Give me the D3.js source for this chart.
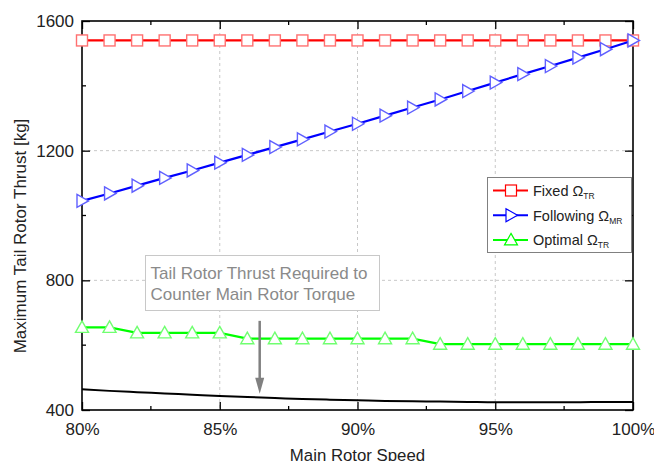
<!DOCTYPE html>
<html>
<head>
<meta charset="utf-8">
<script src="https://cdn.jsdelivr.net/npm/d3@7/dist/d3.min.js"></script>
<style>
  html, body { margin: 0; padding: 0; background: #fff; }
  svg { display: block; font-family: "Liberation Sans", Arial, sans-serif; }
</style>
</head>
<body>
<svg id="chart" width="654" height="461"></svg>
<script>
// Main rotor speed, percent
const speed = d3.range(80, 101, 1);

// Maximum tail rotor thrust [kg] per strategy
const fixedTR = [1540,1540,1540,1540,1540,1540,1540,1540,1540,1540,1540,
                 1540,1540,1540,1540,1540,1540,1540,1540,1540,1540];
const followingMR = [1045,1068,1092,1116,1139,1163,1187,1211,1235,1259,1283,
                     1308,1333,1358,1384,1410,1436,1461,1487,1513,1540];
const optimalTR = [655,655,638,638,638,638,620,620,620,620,620,
                   620,620,603,603,603,603,603,603,603,603];
// Thrust required to counter main rotor torque
const requiredThrust = [464,459,455,451,447,443,440,437,434,432,430,
                        428,427,426,425,424,424,424,424,425,425];

const xTicks = [80, 85, 90, 95, 100];
const xMinor = [82.5, 87.5, 92.5, 97.5];
const yTicks = [400, 800, 1200, 1600];
const yMinor = [600, 1000, 1400];

const noteLines = ["Tail Rotor Thrust Required to", "Counter Main Rotor Torque"];
const arrowSpeed = 86.45, arrowFrom = 675, arrowTo = 450;

const width = 654, height = 461;
const margin = {top: 21, right: 21, bottom: 51, left: 82};
const x0 = margin.left, x1 = width - margin.right;
const y0 = height - margin.bottom, y1 = margin.top;

const svg = d3.select("#chart");
const x = d3.scaleLinear().domain([80, 100]).range([x0, x1]);
const y = d3.scaleLinear().domain([400, 1600]).range([y0, y1]);

// grid
const grid = svg.append("g").attr("stroke", "#c8c8c8").attr("stroke-width", 1)
  .attr("stroke-dasharray", "3,3");
grid.selectAll(".gx").data([85, 90, 95]).join("line")
  .attr("x1", d => x(d)).attr("x2", d => x(d)).attr("y1", y1).attr("y2", y0);
grid.selectAll(".gy").data([800, 1200]).join("line")
  .attr("y1", d => y(d)).attr("y2", d => y(d)).attr("x1", x0).attr("x2", x1);

// axes with inward ticks, mirrored on all four sides
const tickFont = 17;
const gxB = svg.append("g").attr("transform", `translate(0,${y0})`)
  .call(d3.axisBottom(x).tickValues(xTicks).tickSizeInner(-8).tickSizeOuter(0).tickPadding(13)
    .tickFormat(d => d + "%"));
const gxT = svg.append("g").attr("transform", `translate(0,${y1})`)
  .call(d3.axisTop(x).tickValues(xTicks).tickSizeInner(-8).tickSizeOuter(0).tickFormat(""));
const gyL = svg.append("g").attr("transform", `translate(${x0},0)`)
  .call(d3.axisLeft(y).tickValues(yTicks).tickSizeInner(-8).tickSizeOuter(0).tickPadding(8)
    .tickFormat(d3.format("d")));
const gyR = svg.append("g").attr("transform", `translate(${x1},0)`)
  .call(d3.axisRight(y).tickValues(yTicks).tickSizeInner(-8).tickSizeOuter(0).tickFormat(""));
[gxB, gxT, gyL, gyR].forEach(g => {
  g.select(".domain").remove();
  g.selectAll(".tick line").attr("stroke", "#000").attr("stroke-width", 1.3);
  g.selectAll(".tick text").attr("fill", "#222").style("font-size", tickFont + "px")
    .style("font-family", "'Liberation Sans', Arial, sans-serif");
});
// minor ticks
const minorG = svg.append("g").attr("stroke", "#000").attr("stroke-width", 1.3);
xMinor.forEach(v => {
  minorG.append("line").attr("x1", x(v)).attr("x2", x(v)).attr("y1", y0).attr("y2", y0 - 4);
  minorG.append("line").attr("x1", x(v)).attr("x2", x(v)).attr("y1", y1).attr("y2", y1 + 4);
});
yMinor.forEach(v => {
  minorG.append("line").attr("y1", y(v)).attr("y2", y(v)).attr("x1", x0).attr("x2", x0 + 4);
  minorG.append("line").attr("y1", y(v)).attr("y2", y(v)).attr("x1", x1).attr("x2", x1 - 4);
});

// frame
svg.append("rect").attr("x", x0).attr("y", y1).attr("width", x1 - x0).attr("height", y0 - y1)
  .attr("fill", "none").attr("stroke", "#000").attr("stroke-width", 1.6);

// axis titles
svg.append("text").attr("x", (x0 + x1) / 2).attr("y", 461).attr("text-anchor", "middle")
  .attr("fill", "#222").style("font-size", "16.8px").text("Main Rotor Speed");
svg.append("text").attr("transform", "translate(25.5,236) rotate(-90)")
  .attr("text-anchor", "middle").attr("fill", "#222").style("font-size", "17px")
  .text("Maximum Tail Rotor Thrust [kg]");

// marker shapes
const markers = {
  square: g => g.append("rect").attr("x", -5.5).attr("y", -5.5).attr("width", 11).attr("height", 11),
  right: g => g.append("path").attr("d", "M-5,-6.5L6.5,0L-5,6.5Z"),
  up: g => g.append("path").attr("d", "M0,-6.5L6.5,5L-6.5,5Z")
};

const series = [
  {name: "Fixed Ω", sub: "TR", values: fixedTR, color: "#ff0000", mstroke: "#ff7070", marker: "square"},
  {name: "Following Ω", sub: "MR", values: followingMR, color: "#0000ff", mstroke: "#6060ff", marker: "right"},
  {name: "Optimal Ω", sub: "TR", values: optimalTR, color: "#00ff00", mstroke: "#70ff70", marker: "up"}
];

const line = d3.line().x((d, i) => x(speed[i])).y(d => y(d));

const plot = svg.append("g");
// black required-thrust curve
plot.append("path").datum(requiredThrust).attr("d", line.curve(d3.curveMonotoneX))
  .attr("fill", "none").attr("stroke", "#000").attr("stroke-width", 2);
line.curve(d3.curveLinear);

series.forEach(s => {
  plot.append("path").datum(s.values).attr("d", line)
    .attr("fill", "none").attr("stroke", s.color).attr("stroke-width", 2.2);
  s.values.forEach((v, i) => {
    const g = plot.append("g").attr("transform", `translate(${x(speed[i])},${y(v)})`);
    markers[s.marker](g).attr("fill", "#fff").attr("stroke", s.mstroke).attr("stroke-width", 1.4);
  });
});

// legend
const lg = svg.append("g");
lg.append("rect").attr("x", 487.5).attr("y", 177.5).attr("width", 144).attr("height", 75)
  .attr("fill", "#fff").attr("stroke", "#808080").attr("stroke-width", 1);
series.forEach((s, i) => {
  const cy = 190.5 + i * 24.7;
  lg.append("line").attr("x1", 493).attr("x2", 528).attr("y1", cy).attr("y2", cy)
    .attr("stroke", s.color).attr("stroke-width", 2);
  const g = lg.append("g").attr("transform", `translate(511,${cy})`);
  markers[s.marker](g).attr("fill", "#fff").attr("stroke", s.color).attr("stroke-width", 1.2);
  const t = lg.append("text").attr("x", 533).attr("y", cy + 5.3).attr("fill", "#222")
    .style("font-size", "14.5px");
  t.append("tspan").text(s.name);
  t.append("tspan").attr("dy", 3).style("font-size", "8.5px").text(s.sub);
});

// note box and arrow
const note = svg.append("g");
note.append("rect").attr("x", 145.5).attr("y", 255.5).attr("width", 234).attr("height", 55)
  .attr("fill", "#fff").attr("stroke", "#c8c8c8").attr("stroke-width", 1);
noteLines.forEach((l, i) => {
  note.append("text").attr("x", 150.5).attr("y", 279 + i * 20.5).attr("fill", "#8a8a8a")
    .style("font-size", "17px").text(l);
});
const ax = x(arrowSpeed), ay0 = y(arrowFrom), ay1 = y(arrowTo);
note.append("line").attr("x1", ax).attr("x2", ax).attr("y1", ay0).attr("y2", ay1 - 14)
  .attr("stroke", "#808080").attr("stroke-width", 2.5);
note.append("path").attr("d", `M${ax - 4.5},${ay1 - 16}L${ax + 4.5},${ay1 - 16}L${ax},${ay1}Z`)
  .attr("fill", "#808080");
</script>
</body>
</html>
